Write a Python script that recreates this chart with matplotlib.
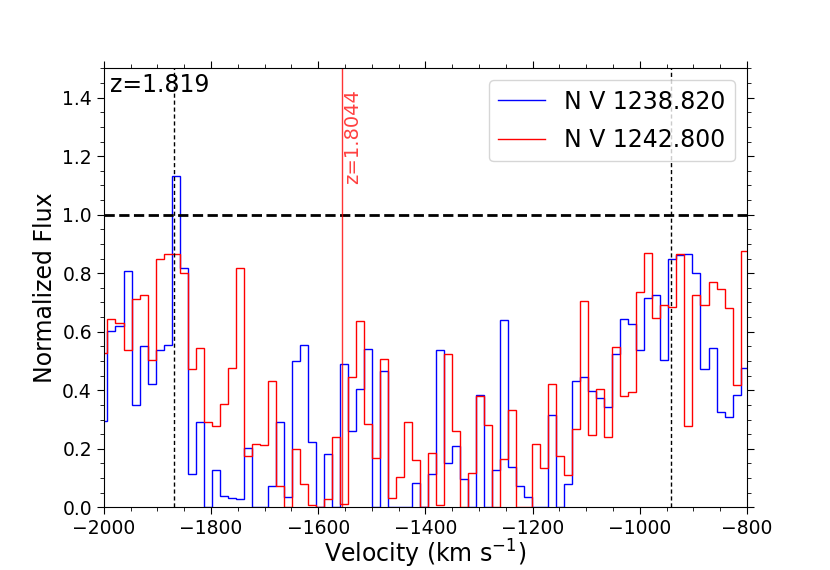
import numpy as np
import matplotlib
matplotlib.use("Agg")
import matplotlib.pyplot as plt
from matplotlib.ticker import MultipleLocator

# velocity grid of the binned spectrum (km/s), first bin edge and bin width
v_start = -2008.0
dv = 14.95

# normalized flux per velocity bin, N V 1238.820
flux_1238 = [0.295, 0.603, 0.620, 0.807, 0.349, 0.552, 0.423, 0.539, 0.556, 1.133,
             0.818, 0.113, 0.292, 0.0, 0.127, 0.039, 0.033, 0.027, 0.202, 0.0,
             0.0, 0.074, 0.293, 0.035, 0.499, 0.556, 0.223, 0.0, 0.182, 0.0,
             0.489, 0.261, 0.404, 0.540, 0.0, 0.465, 0.0, 0.0, 0.0, 0.084,
             0.0, 0.114, 0.539, 0.152, 0.211, 0.098, 0.0, 0.383, 0.0, 0.128,
             0.641, 0.138, 0.072, 0.034, 0.0, 0.0, 0.317, 0.0, 0.079, 0.433,
             0.445, 0.398, 0.372, 0.344, 0.524, 0.644, 0.627, 0.537, 0.714, 0.725,
             0.503, 0.847, 0.862, 0.865, 0.802, 0.473, 0.543, 0.325, 0.309, 0.385,
             0.475]

# normalized flux per velocity bin, N V 1242.800
flux_1242 = [0.526, 0.644, 0.629, 0.538, 0.713, 0.726, 0.504, 0.847, 0.864, 0.867,
             0.802, 0.474, 0.543, 0.292, 0.277, 0.352, 0.477, 0.819, 0.174, 0.217,
             0.212, 0.433, 0.074, 0.0, 0.200, 0.081, 0.007, 0.0, 0.030, 0.239,
             0.010, 0.445, 0.636, 0.284, 0.170, 0.507, 0.033, 0.105, 0.290, 0.162,
             0.0, 0.185, 0.007, 0.523, 0.260, 0.0, 0.117, 0.381, 0.282, 0.0,
             0.164, 0.333, 0.0, 0.0, 0.217, 0.135, 0.422, 0.176, 0.109, 0.267,
             0.706, 0.246, 0.406, 0.241, 0.548, 0.379, 0.393, 0.735, 0.870, 0.648,
             0.690, 0.683, 0.864, 0.278, 0.727, 0.693, 0.769, 0.745, 0.682, 0.418,
             0.877]

# component velocities (km/s)
v_components = [-1869, -941]
v_marker = -1556
marker_label = "z=1.8044"
system_label = "z=1.819"

edges = v_start + dv * np.arange(len(flux_1238) + 1)

fig, ax = plt.subplots(figsize=(8.3, 5.7), dpi=100)

ax.stairs(flux_1238, edges, baseline=None, color="blue", lw=1.0, label="N V 1238.820")
ax.stairs(flux_1242, edges, baseline=None, color="red", lw=1.0, label="N V 1242.800")

# continuum level
ax.axhline(1.0, color="black", ls="--", lw=2)

# component positions
for v in v_components:
    ax.axvline(v, color="black", ls=(0, (3, 2)), lw=1)

# other absorber
ax.axvline(v_marker, color="red", lw=1, alpha=0.8)
ax.text(v_marker + 3, 1.43, marker_label, rotation=90, color="red", alpha=0.75,
        fontsize=14, ha="left", va="top")

ax.text(0.01, 0.99, system_label, transform=ax.transAxes, fontsize=17,
        ha="left", va="top")

ax.set_xlim(-2000, -800)
ax.set_ylim(0, 1.5)
ax.xaxis.set_major_locator(MultipleLocator(200))
ax.xaxis.set_minor_locator(MultipleLocator(50))
ax.yaxis.set_major_locator(MultipleLocator(0.2))
ax.yaxis.set_minor_locator(MultipleLocator(0.05))
ax.tick_params(which="both", top=True, right=True, labelsize=13.5)
ax.tick_params(which="major", length=5)
ax.tick_params(which="minor", length=3)

ax.set_xlabel("Velocity (km s$^{-1}$)", fontsize=17, labelpad=0)
ax.set_ylabel("Normalized Flux", fontsize=17)
ax.legend(loc="upper right", fontsize=17, labelspacing=0.6)

plt.savefig("out.png")
